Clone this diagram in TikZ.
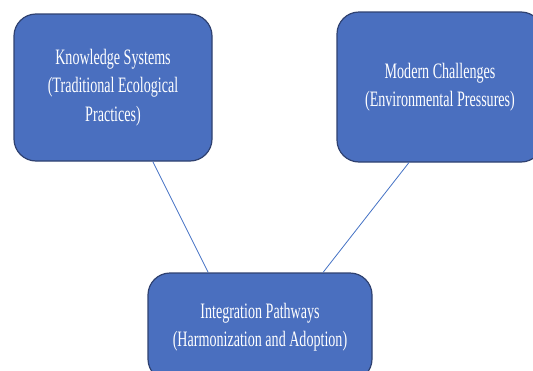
\documentclass[tikz,border=0pt]{standalone}
\usepackage{fontspec}
\setmainfont{Liberation Serif}[FakeStretch=0.64]
\usetikzlibrary{calc}
\definecolor{boxblue}{HTML}{4A6FBF}
\definecolor{boxedge}{HTML}{2F4170}
\definecolor{linkblue}{HTML}{4472C4}

\begin{document}
\begin{tikzpicture}[
  x=1pt, y=-1pt,
  block/.style={rectangle, rounded corners=22pt, draw=boxedge, line width=1.2pt,
    fill=boxblue, text=white, align=center, inner sep=0pt,
    font=\fontsize{22}{28.5}\selectfont},
  link/.style={draw=linkblue, line width=0.8pt}
]
  \useasboundingbox (0,0) rectangle (533,370);

  \node[block, minimum width=198pt, minimum height=147pt] (know) at (113,87.5)
    {Knowledge Systems\\(Traditional Ecological\\Practices)};
  \node[block, minimum width=206pt, minimum height=150pt] (modern) at (440,87)
    {Modern Challenges\\(Environmental Pressures)};
  \node[block, minimum width=224pt, minimum height=108pt] (integ) at (260,327)
    {Integration Pathways\\(Harmonization and Adoption)};

  \draw[link] ($(know.south west)!0.70!(know.south east)$)
    -- ($(integ.north west)!0.27!(integ.north east)$);
  \draw[link] ($(modern.south west)!0.35!(modern.south east)$)
    -- ($(integ.north west)!0.78!(integ.north east)$);
\end{tikzpicture}
\end{document}
